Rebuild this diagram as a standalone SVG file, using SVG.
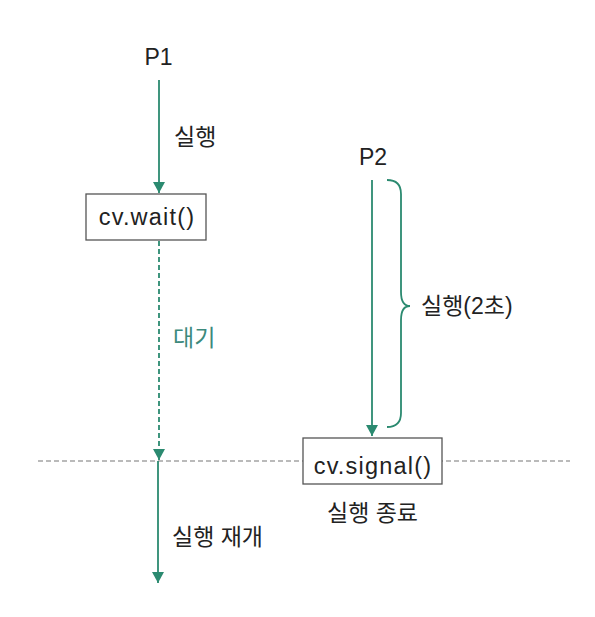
<svg xmlns="http://www.w3.org/2000/svg" width="595" height="617" viewBox="0 0 595 617">
<defs>
<style>
.lbl{font-family:"Liberation Sans","Noto Sans CJK KR",sans-serif;font-size:23px;fill:#222}
.code{font-family:"Liberation Sans","Noto Sans CJK KR",sans-serif;font-size:23.5px;fill:#222;letter-spacing:1.2px}
.title{font-family:"Liberation Sans","Noto Sans CJK KR",sans-serif;font-size:23px;fill:#222}
.wait{font-family:"Liberation Sans","Noto Sans CJK KR",sans-serif;font-size:23px;fill:#3d8a7c}
.flow{stroke:#2b8a70;stroke-width:1.8;fill:none}
.box{fill:#fff;stroke:#555;stroke-width:1.3}
</style>
<marker id="ah" viewBox="0 0 11 12" refX="11" refY="6" markerWidth="11" markerHeight="12" orient="auto" markerUnits="userSpaceOnUse">
<path d="M0,0 L11,6 L0,12 Z" fill="#2b8a70"/>
</marker>
</defs>
<rect width="595" height="617" fill="#fff"/>
<line x1="38" y1="461" x2="570" y2="461" stroke="#777" stroke-width="1.2" stroke-dasharray="5 3"/>
<g id="connectors">
<line class="flow" x1="159" y1="80" x2="159" y2="193" marker-end="url(#ah)"/>
<line class="flow" x1="159" y1="241" x2="159" y2="460" stroke-dasharray="5 3" marker-end="url(#ah)"/>
<line class="flow" x1="158" y1="461" x2="158" y2="583" marker-end="url(#ah)"/>
<line class="flow" x1="372" y1="180" x2="372" y2="436" marker-end="url(#ah)"/>
<path class="flow" d="M387,180 Q401,180 401,194 L401,292 Q401,306 410,306 Q401,306 401,320 L401,413 Q401,427 387,427"/>
</g>
<g id="p1"><text class="title" x="158.5" y="65" text-anchor="middle">P1</text></g>
<g id="p2"><text class="title" x="373" y="165" text-anchor="middle">P2</text></g>
<g id="wait">
<rect class="box" x="86" y="194" width="120" height="46"/>
<text class="code" x="147" y="225" text-anchor="middle">cv.wait()</text>
</g>
<g id="signal">
<rect class="box" x="303" y="438" width="139" height="46"/>
<text class="code" x="373" y="474" text-anchor="middle">cv.signal()</text>
</g>
<g id="labels">
<text class="lbl" x="174" y="145">실행</text>
<text class="wait" x="173" y="346">대기</text>
<text class="lbl" x="421" y="314">실행(2초)</text>
<text class="lbl" x="372.5" y="521" text-anchor="middle">실행 종료</text>
<text class="lbl" x="172" y="545">실행 재개</text>
</g>
</svg>
